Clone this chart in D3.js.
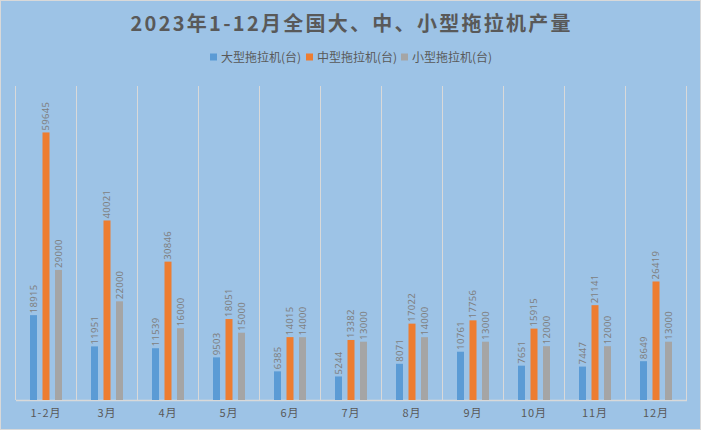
<!DOCTYPE html>
<html><head><meta charset="utf-8">
<script src="https://cdn.jsdelivr.net/npm/d3@7"></script>
<style>html,body{margin:0;padding:0;background:#fff;}svg{display:block;}</style>
</head><body>
<script>
const title = "2023年1-12月全国大、中、小型拖拉机产量";
const categories = ["1-2月","3月","4月","5月","6月","7月","8月","9月","10月","11月","12月"];
const seriesNames = ["大型拖拉机(台)","中型拖拉机(台)","小型拖拉机(台)"];
const largeValues = [18915,11951,11539,9503,6385,5244,8071,10761,7651,7447,8649];
const mediumValues = [59645,40021,30846,18051,14015,13382,17022,17756,15915,21141,26419];
const smallValues = [29000,22000,16000,15000,14000,13000,14000,13000,12000,12000,13000];
const colors = ["#5b9bd5","#ed7d31","#a5a5a5"];
const yMax = 70000;

const W = 701, H = 430;
const plot = {left: 15.5, right: 686.5, top: 86, bottom: 400};
const svg = d3.select("body").append("svg").attr("width", W).attr("height", H);
svg.append("rect").attr("x",0.5).attr("y",0.5).attr("width",W-1).attr("height",H-1)
  .attr("fill","#9dc3e6").attr("stroke","#d9d9d9");

const font = "'Noto Sans CJK SC','Noto Sans',sans-serif";

svg.append("text").attr("x", 350.5).attr("y", 31).attr("text-anchor","middle")
  .attr("font-family", font).attr("font-size", 20).attr("font-weight","bold")
  .attr("fill","#595959").attr("textLength", 440).attr("lengthAdjust","spacing").text(title);

// legend
const legendX = [210, 306, 401];
seriesNames.forEach((name, i) => {
  const g = svg.append("g").attr("transform", `translate(${legendX[i]},0)`);
  g.append("rect").attr("x",0).attr("y",53.5).attr("width",7).attr("height",7).attr("fill",colors[i]);
  g.append("text").attr("x",11).attr("y",61.5).attr("font-family",font).attr("font-size",12)
    .attr("fill","#595959").text(name);
});

const x0 = d3.scaleBand().domain(categories).range([plot.left, plot.right]).paddingInner(0).paddingOuter(0);
const x1 = d3.scaleBand().domain(seriesNames).range([14.5, 46.5]).paddingInner(0.44).paddingOuter(0);
const y = d3.scaleLinear().domain([0, yMax]).range([plot.bottom, plot.top]);

// vertical gridlines at category boundaries
const bounds = categories.map(c => x0(c)).concat([plot.right]);
svg.append("g").selectAll("line").data(bounds).join("line")
  .attr("x1", d => d).attr("x2", d => d).attr("y1", plot.top).attr("y2", plot.bottom)
  .attr("stroke","#d9d9d9").attr("stroke-width",1);

// x axis
const xAxis = d3.axisBottom(x0).tickSize(0).tickPadding(0);
const ax = svg.append("g").attr("transform", `translate(0,${plot.bottom})`).call(xAxis);
ax.select(".domain").attr("stroke","#d9d9d9").attr("stroke-width",1.5);
ax.selectAll("text").attr("font-family",font).attr("font-size",11).attr("fill","#595959")
  .attr("letter-spacing",1).attr("dy",0).attr("y",17);

const seriesVals = [largeValues, mediumValues, smallValues];
const rows = categories.map((c, i) => ({cat: c, vals: seriesNames.map((s, k) => ({s, k, v: seriesVals[k][i]}))}));

const groups = svg.append("g").selectAll("g").data(rows).join("g")
  .attr("transform", d => `translate(${x0(d.cat)},0)`);
groups.selectAll("rect").data(d => d.vals).join("rect")
  .attr("x", d => x1(d.s)).attr("width", x1.bandwidth())
  .attr("y", d => y(d.v)).attr("height", d => plot.bottom - y(d.v))
  .attr("fill", d => colors[d.k]);
groups.selectAll("text").data(d => d.vals).join("text")
  .attr("transform", d => `translate(${x1(d.s) + x1.bandwidth()/2 + 3.3},${y(d.v) - 2}) rotate(-90)`)
  .attr("font-family","'Noto Sans',sans-serif").attr("font-size",9.5).attr("fill","#7f7f7f")
  .attr("letter-spacing",0.3)
  .text(d => d.v);
</script>
</body></html>
